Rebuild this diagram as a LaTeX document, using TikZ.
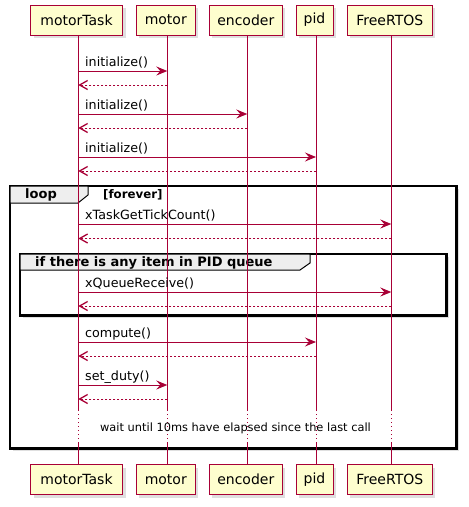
\documentclass[tikz,border=0pt]{standalone}
\usepackage{fontspec}
\setmainfont{DejaVu Sans}
\usetikzlibrary{arrows.meta,shadows}
\definecolor{pred}{HTML}{A80036}
\definecolor{pfill}{HTML}{FEFECE}
\definecolor{tabgray}{HTML}{EEEEEE}
\tikzset{
  part/.style={draw=pred, fill=pfill, line width=1pt, minimum height=30pt, inner sep=0pt,
    font=\fontsize{14}{16}\selectfont,
    drop shadow={opacity=0.25, shadow xshift=3pt, shadow yshift=-3pt}},
  life/.style={draw=pred, line width=0.9pt},
  lifedot/.style={draw=pred, line width=0.9pt, dash pattern=on 1pt off 3pt},
  msg/.style={draw=pred, line width=0.9pt, -{Stealth[length=11pt,width=9pt,inset=4pt]}},
  ret/.style={draw=pred, line width=0.9pt, dash pattern=on 2pt off 2pt,
    -{Straight Barb[length=8pt,width=9pt,line width=1.3pt]}},
  mlabel/.style={anchor=base west, inner sep=0pt, font=\fontsize{12.7}{14}\selectfont},
  frame/.style={draw=black, line width=1.5pt,
    drop shadow={opacity=0.25, shadow xshift=3pt, shadow yshift=-3pt}},
  tab/.style={draw=black, line width=1pt, fill=tabgray},
  ftitle/.style={anchor=base west, inner sep=0pt, font=\bfseries\fontsize{13}{15}\selectfont},
  fcond/.style={anchor=base west, inner sep=0pt, font=\bfseries\fontsize{11.8}{13}\selectfont},
}
\begin{document}
\begin{tikzpicture}[x=1pt,y=-1pt]
\useasboundingbox (0,0) rectangle (469,507);
% frames (drawn first so lifelines are on top)
\node[frame, fill=white, minimum width=446pt, minimum height=262pt, inner sep=0pt] (loopf) at (233,317) {};
\filldraw[tab] (10,186) -- (88,186) -- (88,195) -- (78,203) -- (10,203) -- cycle;
\draw[line width=1.5pt] (loopf.north west) rectangle (loopf.south east);
\node[ftitle] (looplbl) at (25,198.5) {loop};
\node[fcond] (loopcond) at (103,198) {[forever]};
\node[frame, fill=white, minimum width=426pt, minimum height=61pt, inner sep=0pt] (iff) at (233,284.5) {};
\filldraw[tab] (20,254) -- (310,254) -- (310,263) -- (300,270) -- (20,270) -- cycle;
\draw[line width=1.5pt] (iff.north west) rectangle (iff.south east);
\node[ftitle] (iflbl) at (35,266) {if there is any item in PID queue};
% participants
\node[part, minimum width=92pt] (mt) at (76.5,20) {motorTask};
\node[part, minimum width=59pt] (mo) at (165.8,20) {motor};
\node[part, minimum width=73pt] (en) at (245.8,20) {encoder};
\node[part, minimum width=37pt] (pi) at (314.5,20) {pid};
\node[part, minimum width=85pt] (fr) at (389.8,20) {FreeRTOS};
\node[part, minimum width=92pt] (mtb) at (76.5,479.5) {motorTask};
\node[part, minimum width=59pt] (mob) at (165.8,479.5) {motor};
\node[part, minimum width=73pt] (enb) at (245.8,479.5) {encoder};
\node[part, minimum width=37pt] (pib) at (314.5,479.5) {pid};
\node[part, minimum width=85pt] (frb) at (389.8,479.5) {FreeRTOS};
% lifeline coordinates
\foreach \p/\x in {mt/78.3, mo/167.3, en/247.3, pi/316, fr/391.3} {
  \coordinate (\p T) at (\x,35);
  \coordinate (\p A) at (\x,410);
  \coordinate (\p B) at (\x,443);
  \coordinate (\p E) at (\x,464.5);
  \draw[life] (\p T) -- (\p A);
  \draw[lifedot] (\p A) -- (\p B);
  \draw[life] (\p B) -- (\p E);
}
% messages
\draw[msg] (mtT |- 0,71) -- (moT |- 0,71);
\node[mlabel] (m1) at (85,66) {initialize()};
\draw[ret] (moT |- 0,85) -- (mtT |- 0,85);
\draw[msg] (mtT |- 0,114) -- (enT |- 0,114);
\node[mlabel] (m2) at (85,109) {initialize()};
\draw[ret] (enT |- 0,128) -- (mtT |- 0,128);
\draw[msg] (mtT |- 0,157) -- (piT |- 0,157);
\node[mlabel] (m3) at (85,152) {initialize()};
\draw[ret] (piT |- 0,171) -- (mtT |- 0,171);
\draw[msg] (mtT |- 0,224) -- (frT |- 0,224);
\node[mlabel] (m4) at (85,219) {xTaskGetTickCount()};
\draw[ret] (frT |- 0,238.5) -- (mtT |- 0,238.5);
\draw[msg] (mtT |- 0,292) -- (frT |- 0,292);
\node[mlabel] (m5) at (85,287) {xQueueReceive()};
\draw[ret] (frT |- 0,306) -- (mtT |- 0,306);
\draw[msg] (mtT |- 0,342) -- (piT |- 0,342);
\node[mlabel] (m6) at (85,337) {compute()};
\draw[ret] (piT |- 0,356) -- (mtT |- 0,356);
\draw[msg] (mtT |- 0,385) -- (moT |- 0,385);
\node[mlabel] (m7) at (85,380) {set\_duty()};
\draw[ret] (moT |- 0,399) -- (mtT |- 0,399);
% delay text
\node[anchor=base, inner sep=0pt, font=\fontsize{11.4}{13}\selectfont] (wait) at (235.5,431) {wait until 10ms have elapsed since the last call};
\end{tikzpicture}
\end{document}
